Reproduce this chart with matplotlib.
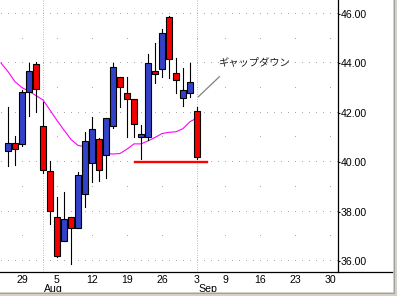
# plot.py
# Daily candlestick chart (Jul-Sep 2002) with a moving average and a "gap down" note.

import matplotlib
matplotlib.use("Agg")
import matplotlib.pyplot as plt
from matplotlib.patches import Rectangle
from matplotlib.lines import Line2D

# ---- data (trading-day index, Jul 29 = 0) ----
day_idx = list(range(-2, 26))
opens = [40.47, 40.77, 40.75, 42.83, 43.96, 41.47, 39.63, 37.79, 36.82, 37.79,
         37.32, 38.70, 39.96, 40.94, 40.28, 41.47, 43.44, 42.79, 42.56, 41.01,
         41.03, 43.69, 43.76, 45.87, 43.60, 42.59, 42.79, 42.07]
highs = [42.23, 41.06, 42.92, 44.03, 44.05, 42.45, 40.05, 38.60, 38.78, 37.79,
         39.62, 41.24, 41.84, 40.96, 41.78, 44.03, 43.45, 43.44, 42.56, 41.51,
         44.38, 44.84, 45.38, 45.93, 44.21, 43.83, 44.03, 42.25]
lows = [39.84, 39.89, 40.66, 41.87, 42.04, 39.55, 37.50, 36.15, 36.80, 35.87,
        37.32, 38.20, 39.21, 39.25, 39.35, 41.40, 42.25, 41.01, 41.01, 40.12,
        40.90, 43.19, 43.46, 43.40, 42.79, 42.28, 42.65, 40.12]
closes = [40.77, 40.52, 42.83, 43.69, 42.95, 39.67, 38.01, 36.21, 37.69, 37.32,
          39.48, 40.87, 41.34, 39.67, 41.78, 43.84, 43.03, 42.55, 41.53, 41.13,
          44.00, 43.57, 45.23, 44.17, 43.33, 42.92, 43.23, 40.20]

ma_idx = list(range(-3, 26))
ma_vals = [44.02, 43.67, 43.26, 43.02, 42.87, 42.70, 42.52, 42.11, 41.69, 41.30,
           40.92, 40.68, 40.62, 40.58, 40.49, 40.35, 40.33, 40.35, 40.53, 40.74,
           40.74, 40.86, 41.00, 41.16, 41.21, 41.23, 41.36, 41.64, 41.79]

tick_pos = [0, 5, 10, 15, 20, 25, 29, 34, 39, 44]
tick_labels = ['29', '5', '12', '19', '26', '3', '9', '16', '23', '30']
month_pos = [3, 25]
month_labels = ['Aug', 'Sep']

support_level = 40.0
note_text = 'ギャップダウン'

UP = '#3341c8'
DOWN = '#f20000'
GRID = '#a8a8a8'

xmin, xmax = -3.14, 45.14
ymin, ymax = 35.55, 46.57

fig = plt.figure(figsize=(3.97, 2.96), dpi=100)
fig.patch.set_facecolor('white')
ax = fig.add_axes([0, 24 / 296, 338 / 397, 272 / 296])
ax.set_xlim(xmin, xmax)
ax.set_ylim(ymin, ymax)

# dotted grid: dense dots on even prices, sparse dots on odd prices
all_days = list(range(-3, 46))
for p in range(36, 47):
    if p % 2 == 0:
        ax.plot(all_days, [p] * len(all_days), ',', color=GRID, zorder=0)
    else:
        ax.plot(tick_pos, [p] * len(tick_pos), ',', color=GRID, zorder=0)
for m in month_pos:
    ax.axvline(m, color=GRID, lw=0.72, linestyle=(0, (0.72, 1.68)), zorder=0)

# moving average
ax.plot(ma_idx, ma_vals, color='#ff00ff', lw=0.8, zorder=1)

# candles
w = 0.36
for x, o, h, l, c in zip(day_idx, opens, highs, lows, closes):
    ax.plot([x, x], [l, h], color='black', lw=0.8, zorder=2)
    col = UP if c >= o else DOWN
    ax.add_patch(Rectangle((x - w, min(o, c)), 2 * w, abs(c - o),
                           facecolor=col, edgecolor='black', lw=0.8, zorder=3))

# support line and annotation
ax.plot([16.1, 26.4], [support_level, support_level], color='#ff0000', lw=1.7, zorder=4)
ax.plot([25.19, 28.19], [42.65, 43.46], color='#808080', lw=0.9, zorder=4)
ax.text(27.96, 44.06, note_text, fontsize=7.4, va='center', ha='left',
        family=['Noto Sans CJK JP', 'DejaVu Sans'], color='#202020')

# axes styling
for s in ['left', 'top', 'bottom']:
    ax.spines[s].set_visible(False)
ax.spines['right'].set_linewidth(0.9)
ax.yaxis.tick_right()
ax.set_yticks([36, 38, 40, 42, 44, 46])
ax.set_yticklabels(['%.2f' % v for v in [36, 38, 40, 42, 44, 46]])
ax.tick_params(axis='y', length=1.5, width=0.8, pad=0.5, labelsize=7.6)
ax.set_xticks(tick_pos)
ax.set_xticklabels(tick_labels)
ax.tick_params(axis='x', length=0, pad=2.0, labelsize=7.6)
for lab in ax.get_xticklabels() + ax.get_yticklabels():
    lab.set_family('Liberation Sans')

# month names under the first tick of each month
for m, txt in zip(month_pos, month_labels):
    ax.text(m + 0.2, -12.5 / 272, txt, fontsize=7.6, ha='left', va='top',
            family='Liberation Sans', transform=ax.get_xaxis_transform())

# x axis line running across to the window edge
fig.add_artist(Line2D([0, 392 / 397], [24 / 296, 24 / 296], transform=fig.transFigure,
                      color='black', lw=0.9))

# window frame on the right and bottom
fig.add_artist(Rectangle((393 / 397, 0), 4 / 397, 1, transform=fig.transFigure,
                         facecolor='#d4d0c8', edgecolor='none'))
fig.add_artist(Rectangle((0, 0), 1, 4 / 296, transform=fig.transFigure,
                         facecolor='#d4d0c8', edgecolor='none'))
fig.add_artist(Line2D([394 / 397, 394 / 397], [4 / 296, 1], transform=fig.transFigure,
                      color='#a0a0a0', lw=0.7))
fig.add_artist(Line2D([0, 394 / 397], [3 / 296, 3 / 296], transform=fig.transFigure,
                      color='#a0a0a0', lw=0.7))

fig.savefig('out.png', dpi=100)
